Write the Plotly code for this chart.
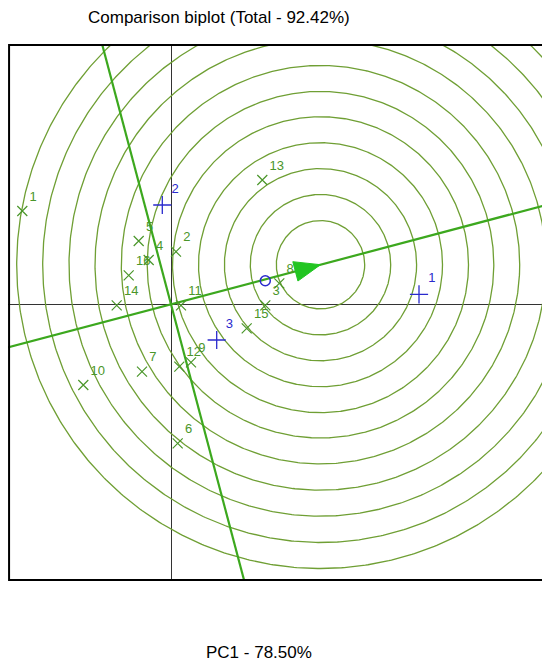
import numpy as np
import plotly.graph_objects as go

# environments (green x)
env_labels = [str(i) for i in range(1, 17)]
env_x = [-1.487, 0.050, 0.943, -0.223, -0.323, 0.067, -0.290, 1.083,
         0.200, -0.877, 0.100, 0.083, 0.913, -0.543, 0.757, -0.423]
env_y = [0.933, 0.526, -0.010, 0.443, 0.633, -1.390, -0.674, 0.210,
         -0.580, -0.807, -0.010, -0.624, 1.243, -0.010, -0.240, 0.290]

# genotypes (blue +)
gen_labels = ["1", "2", "3"]
gen_x = [2.480, -0.087, 0.457]
gen_y = [0.100, 0.993, -0.357]

# average environment and ideal point
avg_env = [0.943, 0.236]
ideal = [1.495, 0.396]

# concentric rings around the ideal point
ring_radii = [0.442, 0.702, 0.961, 1.220, 1.480, 1.733, 1.992, 2.255, 2.515, 2.778, 3.038]

green = "#4a962a"
ring_green = "#6f9f34"
line_green = "#3ca81e"
blue = "#2a2acd"

fig = go.Figure()

theta = np.linspace(0, 2 * np.pi, 721)
for r in ring_radii:
    fig.add_trace(go.Scatter(x=ideal[0] + r * np.cos(theta), y=ideal[1] + r * np.sin(theta),
                             mode="lines", line=dict(color=ring_green, width=1.3),
                             hoverinfo="skip"))

# average environment axis and its perpendicular, both through the origin
u = np.array(ideal) / np.linalg.norm(ideal)
n = np.array([-u[1], u[0]])
t = np.array([-6, 6])
fig.add_trace(go.Scatter(x=t * u[0], y=t * u[1], mode="lines",
                         line=dict(color=line_green, width=2.2), hoverinfo="skip"))
fig.add_trace(go.Scatter(x=t * n[0], y=t * n[1], mode="lines",
                         line=dict(color=line_green, width=2.2), hoverinfo="skip"))

# arrow head at the ideal point
tip = np.array(ideal)
base = tip - 0.26 * u
tri = np.array([tip, base + 0.1 * n, base - 0.1 * n, tip])
fig.add_trace(go.Scatter(x=tri[:, 0], y=tri[:, 1], mode="lines", fill="toself",
                         fillcolor="#22c522", line=dict(color="#22c522", width=1),
                         hoverinfo="skip"))

fig.add_trace(go.Scatter(x=env_x, y=env_y, mode="markers+text", text=env_labels,
                         textposition="top right",
                         textfont=dict(family="Liberation Sans, Arial", size=13, color=green),
                         marker=dict(symbol="x-thin", size=10, line=dict(color=green, width=1.2)),
                         hoverinfo="skip"))

fig.add_trace(go.Scatter(x=gen_x, y=gen_y, mode="markers+text", text=gen_labels,
                         textposition="top right",
                         textfont=dict(family="Liberation Sans, Arial", size=13, color=blue),
                         marker=dict(symbol="cross-thin", size=13, line=dict(color=blue, width=1.3)),
                         hoverinfo="skip"))

fig.add_trace(go.Scatter(x=[avg_env[0]], y=[avg_env[1]], mode="markers",
                         marker=dict(symbol="circle-open", size=10, color=blue, line=dict(width=1.5)),
                         hoverinfo="skip"))

fig.update_xaxes(range=[-1.63, 3.72], showgrid=False, showticklabels=False, ticks="",
                 zeroline=True, zerolinecolor="#333333", zerolinewidth=1)
fig.update_yaxes(range=[-2.757, 2.593], showgrid=False, showticklabels=False, ticks="",
                 zeroline=True, zerolinecolor="#333333", zerolinewidth=1)

# page body adds 8px, so the figure is 8px smaller on each side
fig.update_layout(
    width=542, height=659,
    margin=dict(l=0, r=7, t=37, b=87),
    plot_bgcolor="white", paper_bgcolor="white",
    showlegend=False,
    shapes=[dict(type="rect", xref="paper", yref="paper", x0=0.002, y0=0, x1=1, y1=1,
                 line=dict(color="black", width=2))],
    annotations=[
        dict(text="Comparison biplot (Total - 92.42%)", xref="paper", yref="paper",
             x=0.394, y=1.052, xanchor="center", yanchor="middle", showarrow=False,
             font=dict(family="Liberation Sans, Arial", size=17, color="black")),
        dict(text="PC1 - 78.50%", xref="paper", yref="paper",
             x=0.469, y=-0.135, xanchor="center", yanchor="middle", showarrow=False,
             font=dict(family="Liberation Sans, Arial", size=17, color="black")),
    ],
)

fig.write_html("out.html")
